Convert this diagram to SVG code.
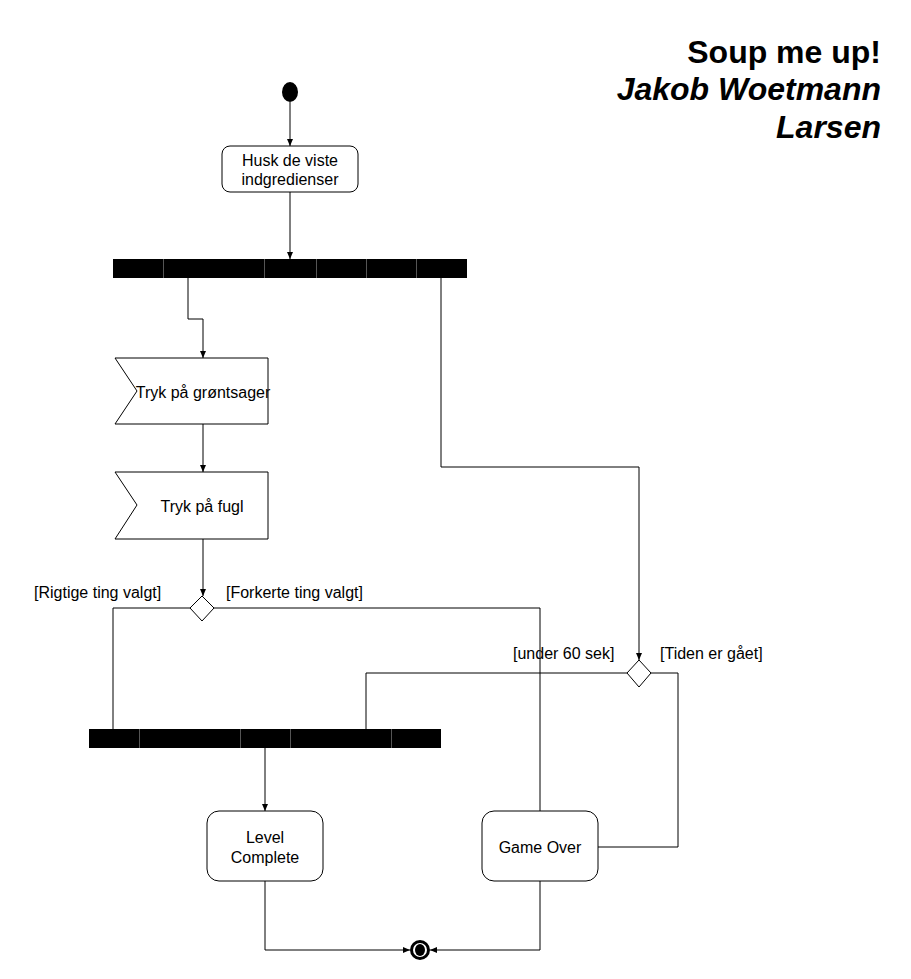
<svg xmlns="http://www.w3.org/2000/svg" width="911" height="979" viewBox="0 0 911 979">
<style>
text{font-family:"Liberation Sans",Arial,sans-serif;font-size:16px;fill:#000}
.node{fill:#fff;stroke:#000;stroke-width:1}
.bar{fill:#000}
.sep{stroke:#555;stroke-width:1}
.edge{fill:none;stroke:#000;stroke-width:1}
.title{font-size:32px;font-weight:bold;text-anchor:end}
.c{text-anchor:middle}
</style>
<defs>
<marker id="arr" markerWidth="8" markerHeight="8" refX="7" refY="4" orient="auto" markerUnits="userSpaceOnUse">
<path d="M0,1 L7,4 L0,7 Z" fill="#000"/>
</marker>
</defs>
<rect width="911" height="979" fill="#fff"/>
<g id="title">
<text class="title" x="881" y="63">Soup me up!</text>
<text class="title" x="881" y="100" font-style="italic">Jakob Woetmann</text>
<text class="title" x="881" y="138" font-style="italic">Larsen</text>
</g>
<g id="connectors">
<path class="edge" d="M290,102 V146" marker-end="url(#arr)"/>
<path class="edge" d="M290,192 V259" marker-end="url(#arr)"/>
<path class="edge" d="M188,278 V319 H203 V358" marker-end="url(#arr)"/>
<path class="edge" d="M441,278 V467 H639 V660" marker-end="url(#arr)"/>
<path class="edge" d="M203,424 V472" marker-end="url(#arr)"/>
<path class="edge" d="M203,539 V596" marker-end="url(#arr)"/>
<path class="edge" d="M190,608 H113 V730"/>
<path class="edge" d="M214,608 H540 V811"/>
<path class="edge" d="M627,673 H366 V730"/>
<path class="edge" d="M651,673 H678 V847 H598"/>
<path class="edge" d="M265,748 V811" marker-end="url(#arr)"/>
<path class="edge" d="M265,881 V950 H410" marker-end="url(#arr)"/>
<path class="edge" d="M540,881 V950 H430" marker-end="url(#arr)"/>
<text x="34" y="598">[Rigtige ting valgt]</text>
<text x="226" y="598">[Forkerte ting valgt]</text>
<text x="513" y="659">[under 60 sek]</text>
<text x="660" y="659">[Tiden er gået]</text>
</g>
<g id="start">
<ellipse cx="290" cy="92" rx="8" ry="10" fill="#000"/>
</g>
<g id="husk">
<rect class="node" x="222" y="146" width="136" height="46" rx="8"/>
<text class="c" x="290" y="166">Husk de viste</text>
<text class="c" x="290" y="185">indgredienser</text>
</g>
<g id="fork1">
<rect class="bar" x="113" y="259" width="354" height="19"/>
<path class="sep" d="M163.5,259V278M264.5,259V278M316.5,259V278M366.5,259V278M416.5,259V278"/>
</g>
<g id="gront">
<polygon class="node" points="115,358 268,358 268,424 115,424 137,391"/>
<text class="c" x="203" y="398">Tryk på grøntsager</text>
</g>
<g id="fugl">
<polygon class="node" points="115,472 268,472 268,539 115,539 137,505"/>
<text class="c" x="202" y="512">Tryk på fugl</text>
</g>
<g id="decision1">
<polygon class="node" points="202,596 214,608 202,621 190,608"/>
</g>
<g id="decision2">
<polygon class="node" points="639,660 651,673 639,687 627,673"/>
</g>
<g id="join">
<rect class="bar" x="89" y="729" width="352" height="19"/>
<path class="sep" d="M139.5,729V748M240.5,729V748M290.5,729V748M391.5,729V748"/>
</g>
<g id="level">
<rect class="node" x="207" y="811" width="116" height="70" rx="12"/>
<text class="c" x="265" y="843">Level</text>
<text class="c" x="265" y="863">Complete</text>
</g>
<g id="gameover">
<rect class="node" x="482" y="811" width="116" height="70" rx="12"/>
<text class="c" x="540" y="853">Game Over</text>
</g>
<g id="end">
<circle cx="420" cy="950" r="8.5" fill="#fff" stroke="#000" stroke-width="3"/>
<ellipse cx="420" cy="950" rx="5" ry="6" fill="#000"/>
</g>
</svg>
